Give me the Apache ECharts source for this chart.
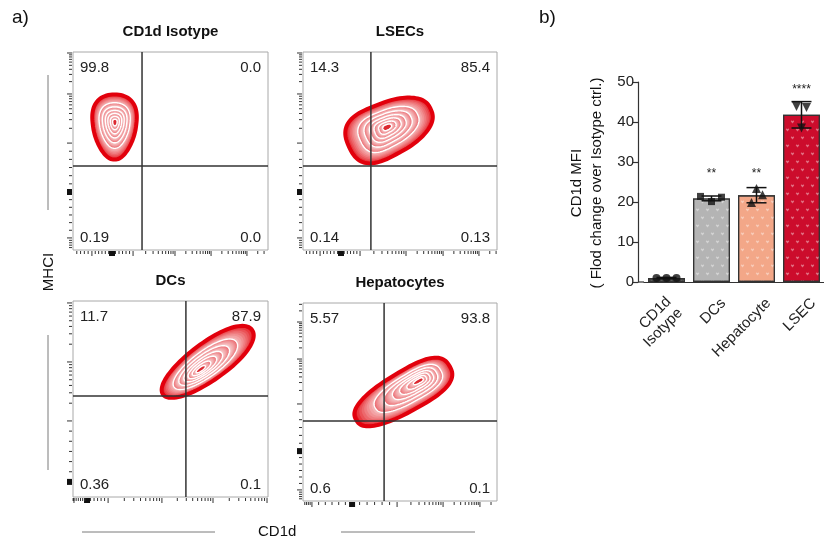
<!DOCTYPE html>
<html><head><meta charset="utf-8">
<script src="https://cdn.jsdelivr.net/npm/echarts@6/dist/echarts.min.js"></script>
<style>html,body{margin:0;padding:0;background:#fff}#c{width:824px;height:539px}</style>
</head><body><div id="c"></div>
<script>
// ================= DATA =================
// Panel a: flow cytometry plots (display channel units 0-1000 on both axes)
const plotTitles = ['CD1d Isotype', 'LSECs', 'DCs', 'Hepatocytes'];
// quadrant percentages: [upper-left, upper-right, lower-left, lower-right]
const quadrantPct = [
  ['99.8', '0.0', '0.19', '0.0'],
  ['14.3', '85.4', '0.14', '0.13'],
  ['11.7', '87.9', '0.36', '0.1'],
  ['5.57', '93.8', '0.6', '0.1']
];
const gateX = [354, 350, 579, 418];
const gateY = [424, 424, 515, 404];
// main population contour estimate
const popX = [213, 448, 690, 515];
const popY = [621, 616, 688, 545];
const popMajor = [167, 232, 282, 278];
const popMinor = [110, 135, 95, 102];
const popAngle = [90, 25, 36, 30];
const popEgg = [0.28, -0.2, 0.05, 0.12];
const popSquare = [2.2, 2.6, 2.1, 2.6];
const peakX = [215, 433, 651, 603];
const peakY = [646, 621, 648, 611];
// biexponential axis decades (channel units)
const xMajor = [[97, 308, 523, 708, 892], [88, 294, 531, 722, 907], [5, 180, 456, 718, 995], [46, 485, 722, 912]];
const xZero = [200, 196, 72, 253];
const yMajor = [[61, 540, 788, 995], [61, 540, 788, 995], [388, 689, 990], [56, 490, 717, 904]];
const yZero = [293, 293, 77, 252];

// Panel b: bar chart
const categories = ['CD1d\nIsotype', 'DCs', 'Hepatocyte', 'LSEC'];
const meanMFI = [1.0, 20.9, 21.7, 41.8];
const sdMFI = [0.15, 0.6, 1.9, 3.3];
const replicateMFI = [[1.0, 1.0, 1.0], [21.4, 20.1, 21.2], [23.4, 21.8, 19.9], [43.9, 43.6, 38.5]];
const significance = ['', '**', '**', '****'];
const sigLevel = [0, 27, 27, 48];
const yMin = 0, yMax = 50, yStep = 10;

// ================= STYLE / LAYOUT =================
const FONT = '"Liberation Sans", Arial, Helvetica, sans-serif';
const flowGrids = [
  {left: 73, top: 52, width: 195, height: 198},
  {left: 303, top: 52, width: 194, height: 198},
  {left: 73, top: 301, width: 195, height: 196},
  {left: 303, top: 303, width: 194, height: 198}
];
const barGrid = {left: 644, top: 82, width: 187, height: 200};
const barColors = ['#555555', '#b4b4b4', '#f3a788', '#cc0c2c'];
const replicateSymbols = ['circle', 'rect', 'triangle', 'triangle'];
const replicateRotate = [0, 0, 0, 180];
const replicateJitterPx = [[-10, 0, 10], [-11, 0, 10], [0, 6, -5], [-5, 5, 0]];

const RED = [228, 18, 26], OUTPALE = [246, 198, 198], INRED = [234, 100, 106], INPALE = [248, 214, 214];
function mix(c1, c2, t) {
  return 'rgb(' + c1.map((v, i) => Math.round(v + (c2[i] - v) * t)).join(',') + ')';
}

function blobRender(params, api) {
  const c = api.coord([api.value(0), api.value(1)]);
  const pk = api.coord([api.value(7), api.value(8)]);
  const a = api.size([api.value(2), 0])[0];
  const b = api.size([api.value(3), 0])[0];
  const ang = api.value(4) * Math.PI / 180;
  const egg = api.value(5), sq = api.value(6);
  const ca = Math.cos(ang), sa = Math.sin(ang);
  const N = 96;
  function ring(s) {
    const cx = pk[0] + s * (c[0] - pk[0]), cy = pk[1] + s * (c[1] - pk[1]);
    const pts = [];
    for (let i = 0; i < N; i++) {
      const t = i / N * 2 * Math.PI, ct = Math.cos(t), st = Math.sin(t);
      const u = a * s * Math.sign(ct) * Math.pow(Math.abs(ct), 2 / sq);
      const v = b * s * Math.sign(st) * Math.pow(Math.abs(st), 2 / sq) * (1 + egg * ct);
      pts.push([cx + u * ca - v * sa, cy - (u * sa + v * ca)]);
    }
    return pts;
  }
  const bounds = [1, 0.7, 0.55, 0.42, 0.31, 0.2, 0.1];
  const children = [];
  const M = 8;
  for (let k = 0; k < bounds.length - 1; k++) {
    const c0 = k === 0 ? RED : INRED, c1 = k === 0 ? OUTPALE : INPALE;
    for (let j = 0; j < M; j++) {
      const s = bounds[k] - (bounds[k] - bounds[k + 1]) * j / M;
      const t = Math.pow(j / M, 0.75);
      children.push({type: 'polygon', shape: {points: ring(s)}, style: {fill: mix(c0, c1, t)}});
    }
  }
  children.push({type: 'polygon', shape: {points: ring(bounds[bounds.length - 1])}, style: {fill: 'rgb(220,40,48)'}});
  for (let k = 1; k < bounds.length; k++) {
    children.push({type: 'polygon', shape: {points: ring(bounds[k])}, style: {fill: 'none', stroke: '#ffffff', lineWidth: 1.4}});
  }
  children.push({type: 'polygon', shape: {points: ring(1)}, style: {fill: 'none', stroke: 'rgb(226,0,12)', lineWidth: 4}});
  return {type: 'group', children};
}

function buildTicks(majors, zero) {
  const out = [];
  const neg = majors.filter(m => m < zero), pos = majors.filter(m => m > zero);
  majors.forEach(m => out.push([m, 1]));
  out.push([zero, 2]);
  const lin = (p0, p1, n) => { for (let i = 1; i < n; i++) out.push([p0 + (p1 - p0) * i / n, 0]); };
  const negPts = neg.concat([zero]);
  if (neg.length) lin(Math.max(0, neg[0] - (zero - neg[0])), neg[0], 5);
  for (let i = 0; i < negPts.length - 1; i++) lin(negPts[i], negPts[i + 1], 6);
  if (pos.length) lin(zero, pos[0], 6);
  for (let i = 0; i < pos.length; i++) {
    const p0 = pos[i];
    const span = i < pos.length - 1 ? pos[i + 1] - p0 : (pos.length > 1 ? p0 - pos[i - 1] : 200);
    for (let k = 2; k <= 9; k++) out.push([p0 + Math.log10(k) * span, 0]);
  }
  return out.filter(t => t[0] >= 0 && t[0] <= 1000);
}

function xTickRender(params, api) {
  const p = api.coord([api.value(0), 0]);
  const kind = api.value(1);
  if (kind === 2) return {type: 'rect', shape: {x: p[0] - 3, y: p[1] + 1, width: 6, height: 5}, style: {fill: '#111'}};
  const len = kind === 1 ? 5 : 3;
  return {type: 'line', shape: {x1: p[0], y1: p[1] + 1, x2: p[0], y2: p[1] + 1 + len}, style: {stroke: '#333', lineWidth: 1}};
}
function yTickRender(params, api) {
  const p = api.coord([0, api.value(0)]);
  const kind = api.value(1);
  if (kind === 2) return {type: 'rect', shape: {x: p[0] - 6, y: p[1] - 3, width: 5, height: 6}, style: {fill: '#111'}};
  const len = kind === 1 ? 5 : 3;
  return {type: 'line', shape: {x1: p[0] - 1 - len, y1: p[1], x2: p[0] - 1, y2: p[1]}, style: {stroke: '#333', lineWidth: 1}};
}

function quadRender(idx) {
  return function (params, api) {
    const gx = api.value(0), gy = api.value(1);
    const cs = params.coordSys;
    const v0 = api.coord([gx, 0]), v1 = api.coord([gx, 1000]);
    const h0 = api.coord([0, gy]), h1 = api.coord([1000, gy]);
    const q = quadrantPct[idx];
    const txt = (text, x, y, align) => ({type: 'text', style: {text, x, y, fill: '#222', fontSize: 15, fontFamily: FONT, align, verticalAlign: 'middle'}});
    return {type: 'group', children: [
      {type: 'line', shape: {x1: v0[0], y1: v0[1], x2: v1[0], y2: v1[1]}, style: {stroke: '#333', lineWidth: 1.5}},
      {type: 'line', shape: {x1: h0[0], y1: h0[1], x2: h1[0], y2: h1[1]}, style: {stroke: '#333', lineWidth: 1.5}},
      txt(q[0], cs.x + 7, cs.y + 16, 'left'),
      txt(q[1], cs.x + cs.width - 7, cs.y + 16, 'right'),
      txt(q[2], cs.x + 7, cs.y + cs.height - 12, 'left'),
      txt(q[3], cs.x + cs.width - 7, cs.y + cs.height - 12, 'right'),
      {type: 'text', style: {text: plotTitles[idx], x: cs.x + cs.width / 2, y: cs.y - 20, fill: '#111', fontSize: 15, fontWeight: 'bold', fontFamily: FONT, align: 'center', verticalAlign: 'middle'}}
    ]};
  };
}

// ================= OPTION =================
const grid = [], xAxis = [], yAxis = [], series = [];
flowGrids.forEach((g, i) => {
  grid.push(Object.assign({show: true, borderColor: '#a8a8a8', borderWidth: 1, backgroundColor: 'transparent'}, g));
  xAxis.push({gridIndex: i, type: 'value', min: 0, max: 1000, show: false});
  yAxis.push({gridIndex: i, type: 'value', min: 0, max: 1000, show: false});
  series.push({type: 'custom', xAxisIndex: i, yAxisIndex: i, z: 2, silent: true,
    data: [[popX[i], popY[i], popMajor[i], popMinor[i], popAngle[i], popEgg[i], popSquare[i], peakX[i], peakY[i]]],
    renderItem: blobRender});
  series.push({type: 'custom', xAxisIndex: i, yAxisIndex: i, z: 5, silent: true,
    data: [[gateX[i], gateY[i]]], renderItem: quadRender(i)});
  series.push({type: 'custom', xAxisIndex: i, yAxisIndex: i, z: 5, silent: true, clip: false,
    data: buildTicks(xMajor[i], xZero[i]), renderItem: xTickRender});
  series.push({type: 'custom', xAxisIndex: i, yAxisIndex: i, z: 5, silent: true, clip: false,
    data: buildTicks(yMajor[i], yZero[i]), renderItem: yTickRender});
});

// bar chart grid
grid.push(barGrid);
xAxis.push({gridIndex: 4, type: 'category', data: categories,
  axisLine: {lineStyle: {color: '#333', width: 1.2}},
  axisTick: {alignWithLabel: true, length: 4, lineStyle: {color: '#333', width: 1.2}},
  axisLabel: {show: false}});
yAxis.push({gridIndex: 4, type: 'value', min: yMin, max: yMax, interval: yStep, offset: 6,
  axisLine: {show: true, lineStyle: {color: '#333', width: 1.2}},
  axisTick: {show: true, length: 5, lineStyle: {color: '#333', width: 1.2}},
  axisLabel: {fontSize: 15, fontFamily: FONT, color: '#222', margin: 4},
  splitLine: {show: false}});

const heart = 'path://M5,9 L0.8,4 C-1,1.5 1.8,-1.5 5,2.2 C8.2,-1.5 11,1.5 9.2,4 Z';
series.push({type: 'bar', xAxisIndex: 4, yAxisIndex: 4, barWidth: 37, z: 2,
  data: meanMFI.map((v, i) => ({value: v, itemStyle: {color: barColors[i], borderColor: '#333', borderWidth: 1.2,
    decal: {symbol: heart, symbolSize: 0.75, color: 'rgba(255,255,255,0.4)', dashArrayX: [[5, 5], [0, 5, 5, 0]], dashArrayY: [4, 3.5]}}}))});

// category labels (rotated 45 degrees)
series.push({type: 'custom', xAxisIndex: 4, yAxisIndex: 4, z: 6, silent: true, clip: false,
  data: categories.map((c, i) => [i, 0]),
  renderItem: function (params, api) {
    const p = api.coord([api.value(0), api.value(1)]);
    const multi = categories[params.dataIndex].indexOf('\n') >= 0;
    return {type: 'text', x: p[0] + (multi ? 8 : 12), y: p[1] + (multi ? 23 : 19), rotation: Math.PI / 4,
      style: {text: categories[params.dataIndex], fill: '#222', fontSize: 15, fontFamily: FONT, align: 'right', verticalAlign: 'middle', lineHeight: 16}};
  }});

series.push({type: 'custom', xAxisIndex: 4, yAxisIndex: 4, z: 4, silent: true,
  data: meanMFI.map((m, i) => [i, m, sdMFI[i]]),
  renderItem: function (params, api) {
    const i = api.value(0), m = api.value(1), sd = api.value(2);
    const top = api.coord([i, m + sd]), bot = api.coord([i, m - sd]);
    const st = {stroke: '#111', lineWidth: 1.5};
    return {type: 'group', children: [
      {type: 'line', shape: {x1: top[0], y1: top[1], x2: bot[0], y2: bot[1]}, style: st},
      {type: 'line', shape: {x1: top[0] - 10, y1: top[1], x2: top[0] + 10, y2: top[1]}, style: st},
      {type: 'line', shape: {x1: bot[0] - 10, y1: bot[1], x2: bot[0] + 10, y2: bot[1]}, style: st}
    ]};
  }});

replicateMFI.forEach((reps, i) => {
  series.push({type: 'scatter', xAxisIndex: 4, yAxisIndex: 4, z: 6, silent: true,
    symbol: replicateSymbols[i], symbolSize: i === 1 ? 7 : (i === 0 ? 8 : 9), symbolRotate: replicateRotate[i],
    itemStyle: {color: '#111'},
    data: reps.map((v, j) => ({value: [i, v], symbolOffset: [replicateJitterPx[i][j], 0]}))});
});

series.push({type: 'custom', xAxisIndex: 4, yAxisIndex: 4, z: 6, silent: true,
  data: sigLevel.map((v, i) => [i, v]),
  renderItem: function (params, api) {
    const p = api.coord([api.value(0), api.value(1)]);
    return {type: 'text', style: {text: significance[params.dataIndex], x: p[0], y: p[1], fill: '#222', fontSize: 12, fontFamily: FONT, align: 'center', verticalAlign: 'middle'}};
  }});

const lineStyle = {stroke: '#7a7a7a', lineWidth: 1};
const option = {
  animation: false,
  backgroundColor: '#ffffff',
  grid, xAxis, yAxis, series,
  graphic: [
    {type: 'text', x: 12, y: 18, style: {text: 'a)', fontSize: 19, fontFamily: FONT, fill: '#111', verticalAlign: 'middle'}},
    {type: 'text', x: 539, y: 18, style: {text: 'b)', fontSize: 19, fontFamily: FONT, fill: '#111', verticalAlign: 'middle'}},
    {type: 'text', x: 49, y: 272, rotation: Math.PI / 2, style: {text: 'MHCI', fontSize: 15, fontFamily: FONT, fill: '#111', align: 'center', verticalAlign: 'middle'}},
    {type: 'text', x: 258, y: 532, style: {text: 'CD1d', fontSize: 15, fontFamily: FONT, fill: '#111', verticalAlign: 'middle'}},
    {type: 'line', shape: {x1: 48, y1: 75, x2: 48, y2: 210}, style: lineStyle},
    {type: 'line', shape: {x1: 48, y1: 335, x2: 48, y2: 470}, style: lineStyle},
    {type: 'line', shape: {x1: 82, y1: 532, x2: 215, y2: 532}, style: lineStyle},
    {type: 'line', shape: {x1: 341, y1: 532, x2: 475, y2: 532}, style: lineStyle},
    {type: 'line', shape: {x1: 638, y1: 282, x2: 644, y2: 282}, style: {stroke: '#333', lineWidth: 1.2}},
    {type: 'text', x: 577, y: 183, rotation: Math.PI / 2, style: {text: 'CD1d MFI', fontSize: 15, fontFamily: FONT, fill: '#111', align: 'center', verticalAlign: 'middle'}},
    {type: 'text', x: 597, y: 183, rotation: Math.PI / 2, style: {text: '( Flod change over Isotype ctrl.)', fontSize: 15, fontFamily: FONT, fill: '#111', align: 'center', verticalAlign: 'middle'}}
  ]
};
const chart = echarts.init(document.getElementById('c'), null, {renderer: 'canvas', width: 824, height: 539});
chart.setOption(option);
</script>
</body></html>
